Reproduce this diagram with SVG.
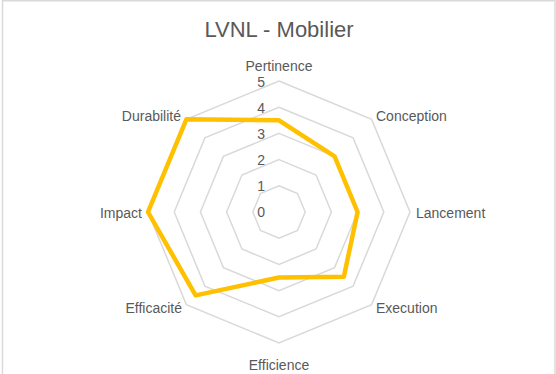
<svg xmlns="http://www.w3.org/2000/svg" width="556" height="374" viewBox="0 0 556 374">
<style>
.grid{fill:none;stroke:#d9d9d9;stroke-width:1.5}
.lbl{font-family:"Liberation Sans",Arial,sans-serif;font-size:14px;fill:#595959}
.num{font-family:"Liberation Sans",Arial,sans-serif;font-size:14px;fill:#595959;text-anchor:end}
.title{font-family:"Liberation Sans",Arial,sans-serif;font-size:22px;fill:#595959;text-anchor:middle}
.series{fill:none;stroke:#ffc000;stroke-width:4.5;stroke-linejoin:round}
</style>
<rect x="0" y="0" width="556" height="374" fill="#ffffff"/>
<path d="M2.5,374 V0.75 H555 V374" fill="none" stroke="#d9d9d9" stroke-width="1.5"/>
<text class="title" x="279" y="37">LVNL - Mobilier</text>
<g id="grid">
<polygon class="grid" points="279,185.8 297.53,193.47 305.2,212 297.53,230.53 279,238.2 260.47,230.53 252.8,212 260.47,193.47"/>
<polygon class="grid" points="279,159.6 316.05,174.95 331.4,212 316.05,249.05 279,264.4 241.95,249.05 226.6,212 241.95,174.95"/>
<polygon class="grid" points="279,133.4 334.58,156.42 357.6,212 334.58,267.58 279,290.6 223.42,267.58 200.4,212 223.42,156.42"/>
<polygon class="grid" points="279,107.2 353.1,137.9 383.8,212 353.1,286.1 279,316.8 204.9,286.1 174.2,212 204.9,137.9"/>
<polygon class="grid" points="279,81 371.63,119.37 410,212 371.63,304.63 279,343 186.37,304.63 148,212 186.37,119.37"/>
</g>
<g id="values">
<text class="num" x="265" y="217">0</text>
<text class="num" x="265" y="191">1</text>
<text class="num" x="265" y="165">2</text>
<text class="num" x="265" y="139">3</text>
<text class="num" x="265" y="113">4</text>
<text class="num" x="265" y="87">5</text>
</g>
<g id="connectors">
<polygon class="series" points="279,120.3 334.58,156.42 357.6,212 343.84,276.84 279,277.5 195.63,295.37 148,212 186.37,119.37"/>
</g>
<g id="node-pertinence"><text class="lbl" x="279" y="71" text-anchor="middle">Pertinence</text></g>
<g id="node-conception"><text class="lbl" x="376" y="121">Conception</text></g>
<g id="node-lancement"><text class="lbl" x="416" y="218">Lancement</text></g>
<g id="node-execution"><text class="lbl" x="376" y="313">Execution</text></g>
<g id="node-efficience"><text class="lbl" x="279" y="370" text-anchor="middle">Efficience</text></g>
<g id="node-efficacite"><text class="lbl" x="182" y="313" text-anchor="end">Efficacité</text></g>
<g id="node-impact"><text class="lbl" x="142" y="218" text-anchor="end">Impact</text></g>
<g id="node-durabilite"><text class="lbl" x="181" y="121" text-anchor="end">Durabilité</text></g>
</svg>
